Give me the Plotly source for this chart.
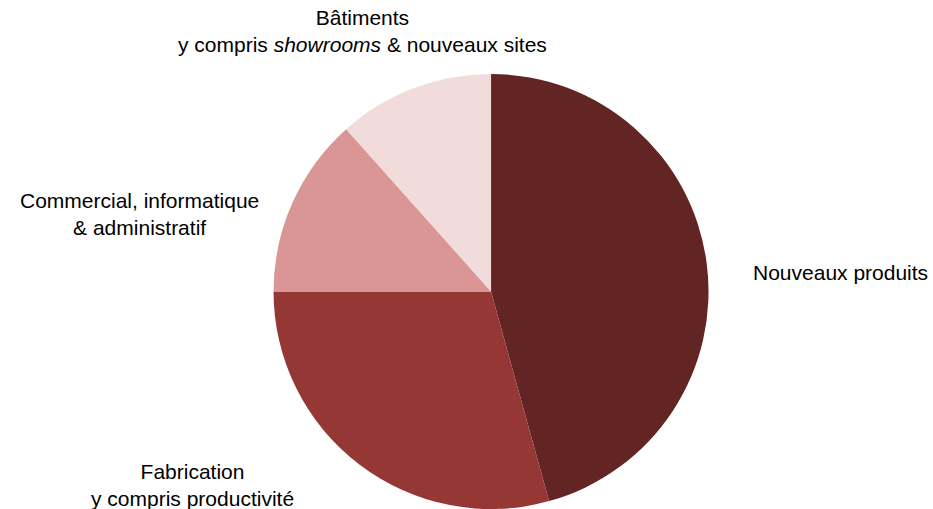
import plotly.graph_objects as go

categories = [
    "Nouveaux produits",
    "Fabrication<br>y compris productivité",
    "Commercial, informatique<br>& administratif",
    "Bâtiments<br>y compris <i>showrooms</i> & nouveaux sites",
]
values = [45.7, 29.3, 13.4, 11.6]
colors = ["#632523", "#953735", "#D99694", "#F2DCDB"]

# label anchor positions (pixels in the 933x509 canvas)
label_px = [(840, 272), (192, 485), (139, 214), (362, 31)]

W, H = 933, 509

fig = go.Figure(
    go.Pie(
        labels=categories,
        values=values,
        sort=False,
        direction="clockwise",
        rotation=0,
        marker=dict(colors=colors, line=dict(width=0)),
        textinfo="none",
        hoverinfo="label+percent",
        domain=dict(x=[0.0526, 1.0], y=[0.0, 435 / 509]),
        showlegend=False,
    )
)

for text, (px, py) in zip(categories, label_px):
    fig.add_annotation(
        text=text,
        x=px / W,
        y=1 - py / H,
        xref="paper",
        yref="paper",
        xanchor="center",
        yanchor="middle",
        align="center",
        showarrow=False,
        font=dict(family="Liberation Sans, Arial, sans-serif", size=21, color="#000000"),
    )

fig.update_layout(
    width=W,
    height=H,
    margin=dict(l=0, r=0, t=0, b=0),
    paper_bgcolor="white",
    plot_bgcolor="white",
)

fig.write_html(
    "out.html",
    config={"displayModeBar": False},
    post_script="document.body.style.margin='0';document.body.style.overflow='hidden';",
)
